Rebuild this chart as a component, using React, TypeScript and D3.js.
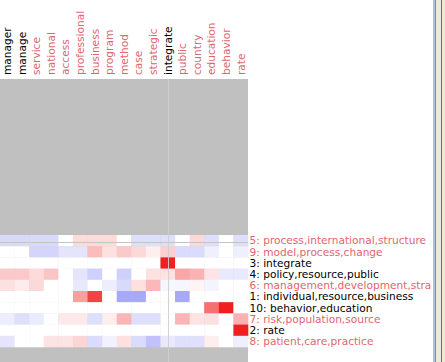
import React from "react";
import * as d3 from "d3";

const columns = ["manager","manage","service","national","access","professional","business","program","method","case","strategic","integrate","public","country","education","behavior","rate"];
const columnHighlight = [true,true,false,false,false,false,false,false,false,false,false,true,false,false,false,false,false];

const rowLabels = [
  "5: process,international,structure",
  "9: model,process,change",
  "3: integrate",
  "4: policy,resource,public",
  "6: management,development,stra",
  "1: individual,resource,business",
  "10: behavior,education",
  "7: risk,population,source",
  "2: rate",
  "8: patient,care,practice",
];
const rowHighlight = [false,false,true,true,false,true,true,false,true,false];

const row5 = [-0.17,-0.17,-0.17,-0.17,0,0.16,0.16,0.16,0,-0.15,-0.15,-0.15,0,0.17,-0.15,0,-0.15];
const row9 = [0,0,-0.19,-0.19,-0.12,-0.12,0.30,0.14,0.24,0.17,0.07,0.21,-0.16,-0.16,-0.07,0,-0.07];
const row3 = [0,0,0,0,0,0,0,0,0,0,0,1,0,0,0,0,0];
const row4 = [0.24,0.24,0.16,0.26,0,-0.12,-0.21,0,-0.21,0,0.13,0.13,0.40,0.34,0.12,-0.1,-0.1];
const row6 = [0.14,0.09,0.17,0,0,-0.1,0,-0.08,-0.17,0.14,0.32,-0.04,-0.04,0.05,-0.05,0,0];
const row1 = [0,0,0,0,0,0.43,0.84,0,-0.39,-0.39,0,0,-0.39,0,0,0,0];
const row10 = [0,0,0,0,0,0,0,0,0,0,0,0,0,0,0.64,1,0];
const row7 = [-0.08,-0.15,-0.09,0,0.10,0.10,-0.15,0.08,0.33,-0.15,-0.15,0,0.33,0.12,0.14,0,0.35];
const row2 = [0,0,0,0,0,0,0,0,0,0,0,0,0,0,0,0,1];
const row8 = [-0.12,0,0,0.12,0.12,0.19,-0.16,-0.06,0.14,-0.16,-0.28,-0.1,-0.14,-0.14,0.07,0,-0.07];

const values = [row5,row9,row3,row4,row6,row1,row10,row7,row2,row8];

const W = 445, H = 362;
const gridRight = 248;
const gridTop = 79;
const rowsTop = 235;
const rowsBottom = 347;
const FONT = "'DejaVu Sans', sans-serif";
const FS = 10.6;
const RED_TEXT = "#de6670";

export default function App() {
  const x = d3.scaleBand<string>().domain(columns).range([0, gridRight]);
  const y = d3.scaleBand<string>().domain(rowLabels).range([rowsTop, rowsBottom]);
  const color = d3.scaleLinear<string>().domain([-1, 0, 1]).range(["#2020f0", "#ffffff", "#f02020"]);

  return (
    <svg width={W} height={H} style={{ position: "fixed", left: 0, top: 0, background: "#fff" }} fontFamily={FONT}>
      <rect x={0} y={0} width={W} height={H} fill="#ffffff" />
      <rect x={0} y={gridTop} width={gridRight} height={H - gridTop} fill="#c0c0c0" />
      {values.map((row, ri) =>
        row.map((v, ci) => (
          <rect key={`${ri}-${ci}`} x={x(columns[ci])} y={y(rowLabels[ri])} width={x.bandwidth() + 0.3} height={y.bandwidth() + 0.3} fill={color(v)} />
        ))
      )}
      <line x1={0} x2={gridRight} y1={242.5} y2={242.5} stroke="#c4c4c4" strokeWidth={1} />
      <line x1={168.5} x2={168.5} y1={gridTop} y2={H} stroke="#cfcfcf" strokeWidth={1} opacity={0.9} />
      {columns.map((c, i) => {
        const cx = (x(c) as number) + x.bandwidth() / 2;
        return (
          <text key={c} transform={`translate(${cx},75) rotate(-90)`} dy="0.36em" fontSize={FS} fill={columnHighlight[i] ? "#000" : RED_TEXT}>
            {c}
          </text>
        );
      })}
      {rowLabels.map((r, i) => (
        <text key={r} x={249.5} y={(y(r) as number) + y.bandwidth() / 2} dy="0.36em" fontSize={FS} fill={rowHighlight[i] ? "#000" : RED_TEXT}>
          {r}
        </text>
      ))}
      <rect x={433} y={0} width={2} height={H} fill="#a9c5de" />
      <rect x={435} y={0} width={1} height={H} fill="#7f8d9c" />
      <rect x={436} y={0} width={9} height={H} fill="#ece9d8" />
      <rect x={441} y={0} width={1} height={H} fill="#716f64" />
    </svg>
  );
}
